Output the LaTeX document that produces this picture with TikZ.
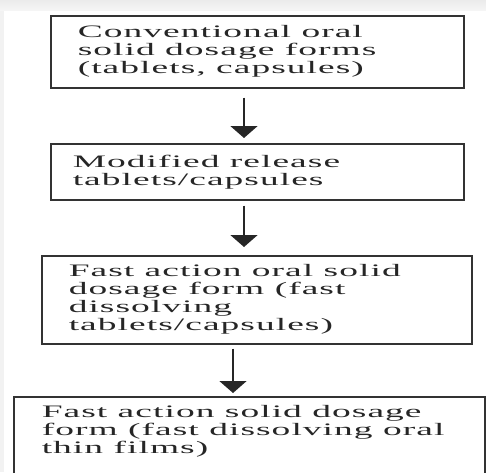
\documentclass[tikz,border=0pt]{standalone}
\usepackage{fontspec}
\setmainfont{Liberation Serif}[FakeStretch=2.14, LetterSpace=6]
\usetikzlibrary{arrows.meta}
\tikzset{
	stage/.style={
			draw=black!80, line width=1.5pt, rectangle, anchor=north west,
			inner ysep=0pt, text=black!85,
			font=\fontsize{17.5}{18}\selectfont
		},
	flow/.style={
			-{Triangle[width=27pt, length=12pt]}, line width=1.8pt, black!85
		}
}

\begin{document}
\begin{tikzpicture}[x=1pt, y=-1pt]
			\useasboundingbox (0, 0) rectangle (486, 472);
			\clip (0, 0) rectangle (486, 472);
			\fill[white] (0, 0) rectangle (486, 472);
			\fill[gray!10] (0, 0) rectangle (4, 472);
			\shade[top color=gray!16, bottom color=gray!8] (0, 0) rectangle (486, 10);

			\node[stage, minimum width=413pt, minimum height=72pt, inner xsep=27pt]
				(conv) at (50, 15) {\parbox{359pt}{Conventional oral\\solid dosage forms\\(tablets, capsules)}};
			\node[stage, minimum width=413pt, minimum height=56pt, inner xsep=22pt]
				(modrel) at (50, 143) {\parbox{369pt}{Modified release\\tablets/capsules}};
			\node[stage, minimum width=430pt, minimum height=88pt, inner xsep=27pt]
				(fasttab) at (41, 255) {\parbox{376pt}{Fast action oral solid\\dosage form (fast\\dissolving\\tablets/capsules)}};
			\node[stage, inner xsep=28pt, inner ysep=9pt]
				(film) at (13, 396) {\parbox[t][80pt][t]{415pt}{Fast action solid dosage\\form (fast dissolving oral\\thin films)}};

			\coordinate (upx) at (244, 0);
			\coordinate (lowx) at (233, 0);
			\draw[flow, shorten <=9pt, shorten >=5pt]	(conv.south -| upx) to (modrel.north -| upx);
			\draw[flow, shorten <=5pt, shorten >=8pt]	(modrel.south -| upx) to (fasttab.north -| upx);
			\draw[flow, shorten <=4pt, shorten >=3pt]	(fasttab.south -| lowx) to (film.north -| lowx);
		\end{tikzpicture}
\end{document}
